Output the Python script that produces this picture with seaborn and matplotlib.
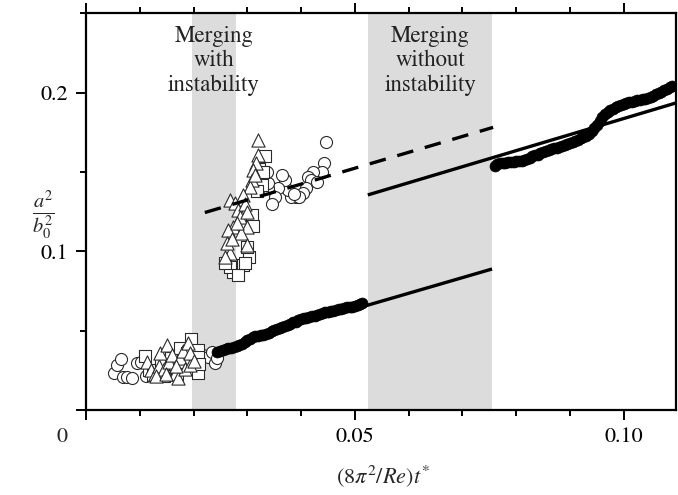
import matplotlib
matplotlib.use("Agg")
import matplotlib.pyplot as plt
import seaborn as sns
from matplotlib.ticker import MultipleLocator, FixedLocator, FixedFormatter

# ---- data ----
# open symbols, early (pre-merging) cluster
circ_lo_x = [0.0053, 0.0057, 0.0066, 0.0069, 0.0077, 0.0085, 0.0094, 0.0103, 0.0112,
             0.0218, 0.0227, 0.0234, 0.0240, 0.0243]
circ_lo_y = [0.0235, 0.0284, 0.0320, 0.0210, 0.0205, 0.0204, 0.0294, 0.0305, 0.0215,
             0.0347, 0.0336, 0.0368, 0.0294, 0.0326]
tri_lo_x = [0.0113, 0.0120, 0.0128, 0.0135, 0.0138, 0.0145, 0.0150, 0.0155, 0.0160, 0.0165,
            0.0172, 0.0175, 0.0180, 0.0185, 0.0190, 0.0193, 0.0193, 0.0200, 0.0130, 0.0148, 0.0168]
tri_lo_y = [0.0305, 0.0255, 0.0230, 0.0280, 0.0357, 0.0260, 0.0410, 0.0300, 0.0345, 0.0230,
            0.0200, 0.0330, 0.0370, 0.0260, 0.0420, 0.0284, 0.0360, 0.0310, 0.0215, 0.0225, 0.0280]
sq_lo_x = [0.0110, 0.0118, 0.0125, 0.0140, 0.0150, 0.0158, 0.0165, 0.0175, 0.0182, 0.0188,
           0.0196, 0.0209, 0.0209, 0.0209, 0.0210, 0.0145, 0.0170]
sq_lo_y = [0.0340, 0.0250, 0.0220, 0.0300, 0.0240, 0.0330, 0.0270, 0.0389, 0.0300, 0.0360,
           0.0446, 0.0378, 0.0336, 0.0231, 0.0290, 0.0215, 0.0225]

# open symbols, after merging with instability
tri_up_x = [0.0319, 0.0320, 0.0317, 0.0311, 0.0308, 0.0305, 0.0292, 0.0268, 0.0277, 0.0283,
            0.0286, 0.0274, 0.0299, 0.0265, 0.0289, 0.0268, 0.0299, 0.0258, 0.0295, 0.0300,
            0.0262, 0.0272, 0.0280, 0.0314]
tri_up_y = [0.1700, 0.1608, 0.1555, 0.1513, 0.1450, 0.1408, 0.1356, 0.1324, 0.1303, 0.1261,
            0.1219, 0.1156, 0.1156, 0.1135, 0.1114, 0.0988, 0.1040, 0.0967, 0.1300, 0.1250,
            0.1050, 0.1080, 0.1180, 0.1480]
sq_up_x = [0.0327, 0.0333, 0.0322, 0.0308, 0.0310, 0.0304, 0.0274, 0.0268, 0.0292, 0.0258,
           0.0283, 0.0296, 0.0300, 0.0330, 0.0318]
sq_up_y = [0.1419, 0.1600, 0.1520, 0.1230, 0.1160, 0.0967, 0.0872, 0.0904, 0.0914, 0.0925,
           0.0850, 0.0927, 0.1030, 0.1500, 0.1380]
circ_up_x = [0.0447, 0.0442, 0.0438, 0.0423, 0.0413, 0.0419, 0.0410, 0.0404, 0.0391, 0.0382,
             0.0376, 0.0370, 0.0364, 0.0357, 0.0351, 0.0339, 0.0339, 0.0336, 0.0345, 0.0396,
             0.0386, 0.0430]
circ_up_y = [0.1692, 0.1560, 0.1503, 0.1503, 0.1471, 0.1450, 0.1398, 0.1366, 0.1345, 0.1345,
             0.1387, 0.1450, 0.1482, 0.1398, 0.1345, 0.1398, 0.1430, 0.1503, 0.1300, 0.1340,
             0.1360, 0.1440]

# filled symbols
fill_lo_x = [0.0243, 0.0249, 0.0255, 0.0260, 0.0265, 0.0270, 0.0275, 0.0280, 0.0285, 0.0290,
             0.0295, 0.0300, 0.0305, 0.0310, 0.0315, 0.0320, 0.0325, 0.0330, 0.0335, 0.0340,
             0.0345, 0.0350, 0.0355, 0.0360, 0.0365, 0.0370, 0.0375, 0.0380, 0.0385, 0.0390,
             0.0395, 0.0400, 0.0405, 0.0410, 0.0415, 0.0420, 0.0425, 0.0430, 0.0435, 0.0440,
             0.0445, 0.0450, 0.0455, 0.0460, 0.0465, 0.0470, 0.0475, 0.0480, 0.0485, 0.0490,
             0.0495, 0.0500, 0.0505, 0.0510, 0.0513]
fill_lo_y = [0.0366, 0.0374, 0.0380, 0.0386, 0.0390, 0.0394, 0.0398, 0.0404, 0.0410, 0.0418,
             0.0428, 0.0440, 0.0450, 0.0458, 0.0466, 0.0468, 0.0470, 0.0473, 0.0478, 0.0488,
             0.0497, 0.0505, 0.0512, 0.0518, 0.0525, 0.0532, 0.0538, 0.0545, 0.0552, 0.0558,
             0.0565, 0.0572, 0.0578, 0.0581, 0.0585, 0.0590, 0.0595, 0.0600, 0.0605, 0.0610,
             0.0615, 0.0618, 0.0622, 0.0626, 0.0630, 0.0634, 0.0638, 0.0643, 0.0648, 0.0650,
             0.0652, 0.0656, 0.0660, 0.0668, 0.0675]
fill_up_x = [0.0760, 0.0765, 0.0770, 0.0775, 0.0780, 0.0785, 0.0790, 0.0795, 0.0800, 0.0805,
             0.0810, 0.0815, 0.0820, 0.0825, 0.0830, 0.0835, 0.0840, 0.0845, 0.0850, 0.0855,
             0.0860, 0.0865, 0.0870, 0.0875, 0.0880, 0.0885, 0.0890, 0.0895, 0.0900, 0.0905,
             0.0910, 0.0915, 0.0920, 0.0925, 0.0930, 0.0935, 0.0940, 0.0945, 0.0950, 0.0955,
             0.0960, 0.0965, 0.0970, 0.0975, 0.0980, 0.0985, 0.0990, 0.0995, 0.1000, 0.1005,
             0.1010, 0.1015, 0.1020, 0.1025, 0.1030, 0.1035, 0.1040, 0.1045, 0.1050, 0.1055,
             0.1060, 0.1065, 0.1070, 0.1075, 0.1080, 0.1085, 0.1090]
fill_up_y = [0.1540, 0.1550, 0.1555, 0.1558, 0.1560, 0.1562, 0.1565, 0.1566, 0.1568, 0.1570,
             0.1572, 0.1578, 0.1585, 0.1592, 0.1600, 0.1605, 0.1610, 0.1618, 0.1625, 0.1632,
             0.1640, 0.1645, 0.1650, 0.1655, 0.1660, 0.1666, 0.1672, 0.1678, 0.1685, 0.1690,
             0.1698, 0.1705, 0.1712, 0.1720, 0.1730, 0.1742, 0.1760, 0.1780, 0.1800, 0.1825,
             0.1850, 0.1868, 0.1880, 0.1890, 0.1900, 0.1908, 0.1915, 0.1922, 0.1930, 0.1935,
             0.1940, 0.1945, 0.1950, 0.1952, 0.1955, 0.1958, 0.1962, 0.1968, 0.1975, 0.1982,
             0.1990, 0.1998, 0.2005, 0.2015, 0.2025, 0.2035, 0.2045]

# fitted straight lines (end points)
dash_x = [0.0221, 0.0757]
dash_y = [0.1245, 0.1782]
solid_up_x = [0.0524, 0.1097]
solid_up_y = [0.1356, 0.1936]
solid_lo_x = [0.0450, 0.0755]
solid_lo_y = [0.0588, 0.0889]

# shaded merging intervals
band_with = (0.0197, 0.0279)
band_without = (0.0524, 0.0755)

# ---- style ----
sns.set_style("ticks")
plt.rcParams['font.family'] = ['STIXGeneral', 'Liberation Serif', 'DejaVu Serif']
plt.rcParams['mathtext.fontset'] = 'stix'

fig = plt.figure(figsize=(6.78, 4.95), dpi=100)
ax = fig.add_axes([0.1268, 0.1717, 0.8702, 0.802])

ax.axvspan(*band_with, color='#dcdcdc', lw=0, zorder=0)
ax.axvspan(*band_without, color='#dcdcdc', lw=0, zorder=0)

open_kw = dict(facecolor='white', edgecolor='#2a2a2a', linewidth=0.8, ax=ax, zorder=3)
sns.scatterplot(x=circ_lo_x, y=circ_lo_y, marker='o', s=75, **open_kw)
sns.scatterplot(x=sq_lo_x, y=sq_lo_y, marker='s', s=66, **open_kw)
sns.scatterplot(x=tri_lo_x, y=tri_lo_y, marker='^', s=90, **open_kw)
sns.scatterplot(x=circ_up_x, y=circ_up_y, marker='o', s=75, **open_kw)
sns.scatterplot(x=sq_up_x, y=sq_up_y, marker='s', s=66, **open_kw)
sns.scatterplot(x=tri_up_x, y=tri_up_y, marker='^', s=90, **open_kw)

line_kw = dict(color='black', lw=2.4, zorder=4, solid_capstyle='butt')
ax.plot(dash_x, dash_y, linestyle=(0, (5, 3.6)), **line_kw)
ax.plot(solid_up_x, solid_up_y, **line_kw)
ax.plot(solid_lo_x, solid_lo_y, **line_kw)

fill_kw = dict(color='black', edgecolor='black', linewidth=0.5, s=62, ax=ax, zorder=5)
sns.scatterplot(x=fill_lo_x, y=fill_lo_y, **fill_kw)
sns.scatterplot(x=fill_up_x, y=fill_up_y, **fill_kw)

# ---- axes ----
ax.set_xlim(0, 0.1097)
ax.set_ylim(0, 0.2503)
ax.xaxis.set_major_locator(FixedLocator([0, 0.05, 0.10]))
ax.xaxis.set_major_formatter(FixedFormatter(['', '0.05', '0.10']))
ax.xaxis.set_minor_locator(MultipleLocator(0.01))
ax.yaxis.set_major_locator(FixedLocator([0, 0.1, 0.2]))
ax.yaxis.set_major_formatter(FixedFormatter(['', '0.1', '0.2']))
ax.yaxis.set_minor_locator(MultipleLocator(0.05))

for side in ['left', 'bottom', 'top', 'right']:
    ax.spines[side].set_visible(True)
    ax.spines[side].set_linewidth(1.6)
    ax.spines[side].set_color('black')

ax.tick_params(which='both', direction='out', top=True, right=False, width=1.4,
               colors='black', labelsize=16)
ax.tick_params(which='major', length=7.5, pad=5)
ax.tick_params(which='minor', length=4.5)

fig.text(62 / 678, 1 - 437 / 495, '0', ha='center', va='center', fontsize=16)

ax.set_xlabel(r'$(8\pi^2/Re)t^{*}$', fontsize=16)
ax.xaxis.set_label_coords(0.503, -0.135)
ax.set_ylabel(r'$\frac{a^2}{b_0^2}$', fontsize=21, rotation=0, va='center', ha='center')
ax.yaxis.set_label_coords(-0.072, 0.49)

ax.text(0.0238, 0.2425, 'Merging\nwith\ninstability', ha='center', va='top',
        fontsize=16.5, linespacing=1.2, color='#222222')
ax.text(0.0640, 0.2425, 'Merging\nwithout\ninstability', ha='center', va='top',
        fontsize=16.5, linespacing=1.2, color='#222222')

plt.savefig('out.png', dpi=100)
plt.close()
